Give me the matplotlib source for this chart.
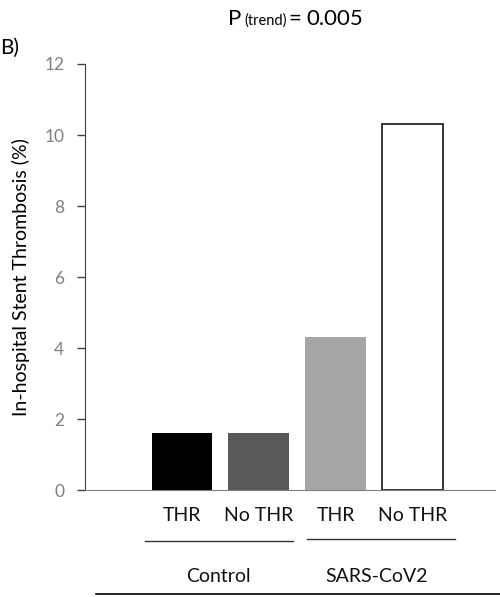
import numpy as np
import matplotlib
matplotlib.use('Agg')
import matplotlib.pyplot as plt

plt.rcParams['font.family'] = ['Lato', 'DejaVu Sans']

# data
groups = ['Control', 'SARS-CoV2']
bar_labels = ['THR', 'No THR', 'THR', 'No THR']
stent_thrombosis = [1.6, 1.6, 4.3, 10.3]
bar_colors = ['#000000', '#595959', '#a6a6a6', '#ffffff']
y_ticks = [0, 2, 4, 6, 8, 10, 12]

fig = plt.figure(figsize=(5.0, 5.97), dpi=100)
ax = fig.add_axes([0.17, 0.1792, 0.82, 0.7136])

x = np.arange(len(stent_thrombosis))
bars = ax.bar(x, stent_thrombosis, width=0.79, color=bar_colors)
bars[3].set_edgecolor('#262626')
bars[3].set_linewidth(1.3)

ax.set_xlim(-1.26, 4.07)
ax.set_ylim(0, 12)
ax.set_yticks(y_ticks)
ax.set_xticks(x)
ax.set_xticklabels(bar_labels, fontsize=14, color='#111111')
ax.tick_params(axis='x', length=0, pad=12)
ax.tick_params(axis='y', length=6, width=1, color='#404040',
               labelsize=12.5, labelcolor='#808080', pad=9)

for s in ['top', 'right']:
    ax.spines[s].set_visible(False)
ax.spines['left'].set_color('#404040')
ax.spines['bottom'].set_color('#808080')

ax.set_ylabel('In-hospital Stent Thrombosis (%)', fontsize=14)
ax.yaxis.set_label_coords(-0.135, 0.5)

# group underlines and names below the bar labels
trans = ax.get_xaxis_transform()
ax.plot([-0.48, 1.45], [-0.12, -0.12], color='#333333', lw=1,
        transform=trans, clip_on=False)
ax.plot([1.62, 3.55], [-0.115, -0.115], color='#333333', lw=1,
        transform=trans, clip_on=False)
ax.text(0.47, -0.202, groups[0], transform=trans, ha='center', va='center',
        fontsize=14, color='#111111')
ax.text(2.53, -0.202, groups[1], transform=trans, ha='center', va='center',
        fontsize=14, color='#111111')
fig.add_artist(plt.Line2D([0.192, 1.0], [0.005, 0.005], color='black', lw=1.2))

# title pieces
fig.text(0.456, 0.968, 'P', fontsize=16, ha='left', va='center')
fig.text(0.488, 0.965, '(trend)', fontsize=10.5, ha='left', va='center')
fig.text(0.576, 0.968, '=', fontsize=16, ha='left', va='center')
fig.text(0.612, 0.968, '0.005', fontsize=16, ha='left', va='center')
fig.text(0.0, 0.92, 'B)', fontsize=15, ha='left', va='center')

fig.savefig('out.png', dpi=100)
